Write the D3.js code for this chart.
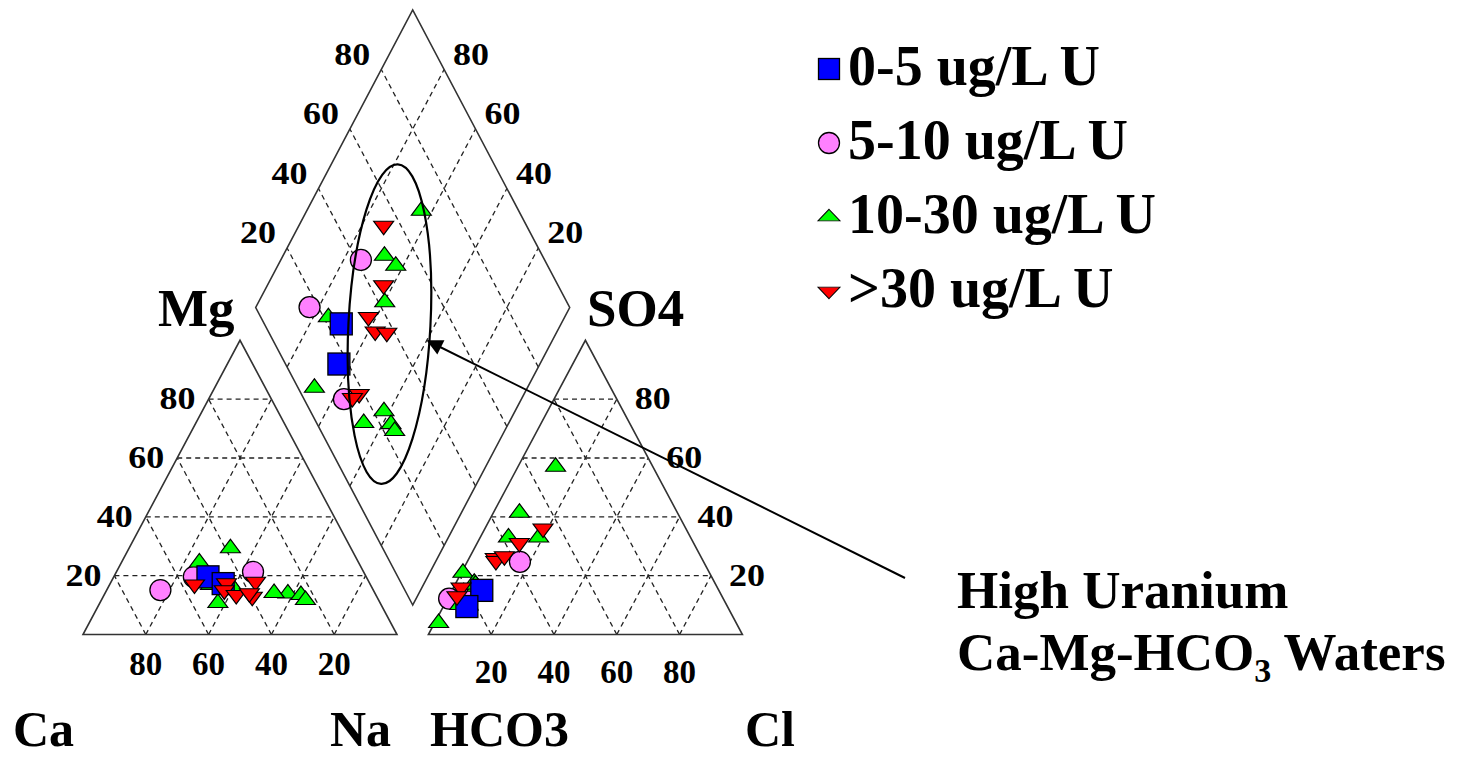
<!DOCTYPE html>
<html>
<head>
<meta charset="utf-8">
<title>Piper diagram - uranium waters</title>
<style>
  body { margin: 0; background: #fff; }
  text { font-family: "Liberation Serif", "Times New Roman", serif; font-weight: bold; fill: #000; }
</style>
</head>
<body>
<script src="https://cdn.jsdelivr.net/npm/d3@7"></script>
<script>
var width = 1457, height = 758;

// legend groups
var groups = ["0-5 ug/L U", "5-10 ug/L U", "10-30 ug/L U", ">30 ug/L U"];
var sampleGroup = [0,0, 1,1,1, 2,2,2,2,2,2,2,2,2,2, 3,3,3,3,3,3,3];
// cations in % meq (Ca = 100 - Mg - Na)
var mgPct = [19.6,17.3, 19.6,15.1,21.3, 17,29.3,10.7,15.6,24.5,16.8,13.9,14.1,13.4,11.7, 17,17.4,15,13.4,17.9,12.8,14];
var naPct = [30,36, 25.5,17.1,43.5, 36.5,32.3,37.6,40.2,24.8,32.2,58.3,53.8,62.7,65, 27,37,37.5,42.1,46,47.5,46];
// anions in % meq (HCO3 = 100 - SO4 - Cl)
var so4Pct = [15,9.5, 24.7,12.2,12.2, 57,41.4,33,33,21,3.9,17.6,10,16.2,17, 36,31.1,26,25,26.6,16,13];
var clPct = [9.5,7.5, 16.8,5,0.5, 12,8.3,18.6,9,0.5,1.3,5.8,5,7.3,6.5, 18.5,13.4,8.3,9,10.9,2.4,2.6];
var gridTicks = [20, 40, 60, 80];

var groupFill = ["#0000ff", "#ff80ff", "#00ff00", "#ff0000"];
var groupShape = ["square", "circle", "up", "down"];

var svg = d3.select("body").append("svg")
    .attr("width", width)
    .attr("height", height);

// layout: triangle side = 1 unit, height = 1 unit (picture is stretched), gap between triangles
var gap = 0.1;
var x = d3.scaleLinear().domain([0, 2 + gap]).range([83, 742.4]);
var yT = d3.scaleLinear().domain([0, 1]).range([634.5, 340.3]);
var yD = d3.scaleLinear().domain([gap, 2 + gap]).range([605, 10]);

function cation(mg, na) {          // fractions
  return [x(na + mg / 2), yT(mg)];
}
function anion(so4, cl) {
  return [x(1 + gap + cl + so4 / 2), yT(so4)];
}
function diamond(u, v) {           // u = Ca+Mg, v = SO4+Cl
  return [x(1 + gap / 2 + (v - u) / 2), yD(gap + u + v)];
}

var line = d3.line();

// ---- grid (dashed) ----
var grid = svg.append("g")
    .attr("fill", "none")
    .attr("stroke", "#222")
    .attr("stroke-width", 1.3)
    .attr("stroke-dasharray", "5,4");

gridTicks.forEach(function(t) {
  var p = t / 100;
  // cation triangle
  grid.append("path").attr("d", line([cation(p, 0), cation(p, 1 - p)]));
  grid.append("path").attr("d", line([cation(0, p), cation(1 - p, p)]));
  grid.append("path").attr("d", line([cation(0, 1 - p), cation(1 - p, 0)]));
  // anion triangle
  grid.append("path").attr("d", line([anion(p, 0), anion(p, 1 - p)]));
  grid.append("path").attr("d", line([anion(0, p), anion(1 - p, p)]));
  grid.append("path").attr("d", line([anion(0, 1 - p), anion(1 - p, 0)]));
  // diamond
  grid.append("path").attr("d", line([diamond(p, 0), diamond(p, 1)]));
  grid.append("path").attr("d", line([diamond(0, p), diamond(1, p)]));
});

// ---- outlines ----
var outline = svg.append("g")
    .attr("fill", "none")
    .attr("stroke", "#333")
    .attr("stroke-width", 1.6);
outline.append("path").attr("d", line([cation(0, 0), cation(0, 1), cation(1, 0)]) + "Z");
outline.append("path").attr("d", line([anion(0, 0), anion(0, 1), anion(1, 0)]) + "Z");
outline.append("path").attr("d", line([diamond(0, 0), diamond(1, 0), diamond(1, 1), diamond(0, 1)]) + "Z");

// ---- tick labels ----
var labels = svg.append("g");
gridTicks.forEach(function(t) {
  var p = t / 100;
  var c = cation(p, 0);
  labels.append("text").attr("x", c[0] - 13).attr("y", c[1] + 10)
    .attr("text-anchor", "end").attr("font-size", 31)
    .attr("textLength", 36).attr("lengthAdjust", "spacingAndGlyphs").text(t);
  var a = anion(p, 1 - p);
  labels.append("text").attr("x", a[0] + 18).attr("y", a[1] + 10)
    .attr("text-anchor", "start").attr("font-size", 31)
    .attr("textLength", 36).attr("lengthAdjust", "spacingAndGlyphs").text(t);
  // bottom: Ca % under cation base, Cl % under anion base
  var b = cation(0, p);
  labels.append("text").attr("x", b[0]).attr("y", 675)
    .attr("text-anchor", "middle").attr("font-size", 33).text(100 - t);
  var b2 = anion(0, p);
  labels.append("text").attr("x", b2[0]).attr("y", 683)
    .attr("text-anchor", "middle").attr("font-size", 33).text(t);
  // diamond upper edges
  var dl = diamond(1, p);
  labels.append("text").attr("x", dl[0] - 11).attr("y", dl[1] - 5)
    .attr("text-anchor", "end").attr("font-size", 31)
    .attr("textLength", 36).attr("lengthAdjust", "spacingAndGlyphs").text(t);
  var dr = diamond(p, 1);
  labels.append("text").attr("x", dr[0] + 9).attr("y", dr[1] - 5)
    .attr("text-anchor", "start").attr("font-size", 31)
    .attr("textLength", 36).attr("lengthAdjust", "spacingAndGlyphs").text(t);
});

// ---- axis names ----
var names = [
  {t: "Ca", x: 13, y: 746, s: 50}, {t: "Na", x: 330, y: 746, s: 50},
  {t: "HCO3", x: 430, y: 746, s: 50}, {t: "Cl", x: 745, y: 746, s: 50},
  {t: "Mg", x: 158, y: 326, s: 53}, {t: "SO4", x: 587, y: 326, s: 53}
];
labels.selectAll("text.name").data(names).enter().append("text")
  .attr("class", "name")
  .attr("x", function(d) { return d.x; })
  .attr("y", function(d) { return d.y; })
  .attr("font-size", function(d) { return d.s; })
  .text(function(d) { return d.t; });

// ---- markers ----
function marker(sel, shape, fill, w, squash) {
  if (shape === "square") {
    sel.append("rect").attr("x", -w / 2).attr("y", -w / 2).attr("width", w).attr("height", w);
  } else if (shape === "circle") {
    sel.append("circle").attr("r", w / 2);
  } else {
    var s = (shape === "up") ? 1 : -1;
    sel.append("path").attr("d", d3.symbol(d3.symbolTriangle, w * w * Math.sqrt(3) / 4)())
      .attr("transform", "scale(1," + (s * squash) + ")");
  }
  sel.attr("fill", fill).attr("stroke", "#000").attr("stroke-width", 1.3);
}

var samples = sampleGroup.map(function(g, i) {
  var mg = mgPct[i] / 100, na = naPct[i] / 100;
  var so4 = so4Pct[i] / 100, cl = clPct[i] / 100;
  return {
    g: g,
    c: cation(mg, na),
    a: anion(so4, cl),
    d: diamond(1 - na, so4 + cl)
  };
});

var drawOrder = [1, 2, 0, 3];
var pts = svg.append("g");
drawOrder.forEach(function(g) {
  samples.filter(function(s) { return s.g === g; }).forEach(function(s) {
    var size = (g === 0) ? 22 : (g === 1 ? 21 : 20);
    ["c", "a", "d"].forEach(function(k) {
      var m = pts.append("g").attr("transform", "translate(" + s[k][0] + "," + s[k][1] + ")");
      marker(m, groupShape[g], groupFill[g], size, 0.78);
    });
  });
});

// ---- legend ----
var legend = svg.append("g");
groups.forEach(function(name, i) {
  var by = 85 + i * 74;
  var m = legend.append("g").attr("transform", "translate(829," + (by - 16) + ")");
  marker(m, groupShape[i], groupFill[i], i < 2 ? 21 : 22, 0.6);
  legend.append("text").attr("x", 848).attr("y", by)
    .attr("font-size", 56).text(name);
});

// ---- annotation ----
var ell = [x(0.976), yD(1.044)];
svg.append("ellipse")
  .attr("cx", ell[0]).attr("cy", ell[1])
  .attr("rx", 41).attr("ry", 160)
  .attr("transform", "rotate(3," + ell[0] + "," + ell[1] + ")")
  .attr("fill", "none").attr("stroke", "#000").attr("stroke-width", 2.2);

svg.append("defs").append("marker")
  .attr("id", "arrow").attr("viewBox", "0 0 10 10")
  .attr("refX", 9).attr("refY", 5)
  .attr("markerWidth", 10).attr("markerHeight", 8)
  .attr("markerUnits", "strokeWidth")
  .attr("orient", "auto")
  .append("path").attr("d", "M0,0L10,5L0,10Z").attr("fill", "#000");

svg.append("line")
  .attr("x1", 905).attr("y1", 578).attr("x2", 428).attr("y2", 341)
  .attr("stroke", "#000").attr("stroke-width", 2)
  .attr("marker-end", "url(#arrow)");

var note = svg.append("text").attr("font-size", 53);
note.append("tspan").attr("x", 957).attr("y", 608).text("High Uranium");
var l2 = svg.append("text").attr("font-size", 53).attr("x", 957).attr("y", 670);
l2.append("tspan").text("Ca-Mg-HCO");
l2.append("tspan").attr("font-size", 34).attr("dy", 12).text("3");
l2.append("tspan").attr("dy", -12).text(" Waters");
</script>
</body>
</html>
